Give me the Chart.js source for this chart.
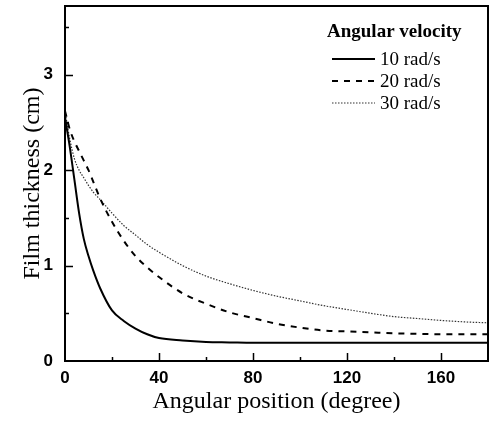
<!DOCTYPE html>
<html>
<head>
<meta charset="utf-8">
<script src="https://cdn.jsdelivr.net/npm/chart.js@4/dist/chart.umd.min.js"></script>
<style>
  html, body { margin: 0; padding: 0; background: #fff; }
  #wrap { width: 493px; height: 426px; }
</style>
</head>
<body>
<div id="wrap"><canvas id="myChart" width="493" height="426"></canvas></div>
<script>
// angular position (degree)
let angles = [0, 2, 4, 6, 8, 10, 12, 15, 20, 25, 30, 35, 40, 50, 60, 70, 80, 90, 100, 110, 120, 130, 140, 150, 160, 170, 180]
// film thickness (cm) per angular velocity
let v10 = [2.55, 2.25, 1.9, 1.55, 1.28, 1.1, 0.95, 0.76, 0.53, 0.42, 0.34, 0.28, 0.24, 0.215, 0.2, 0.195, 0.19, 0.19, 0.19, 0.19, 0.19, 0.19, 0.19, 0.19, 0.19, 0.19, 0.19]
let v20 = [2.62, 2.43, 2.3, 2.2, 2.1, 2.0, 1.88, 1.7, 1.46, 1.26, 1.1, 0.98, 0.88, 0.71, 0.6, 0.51, 0.45, 0.39, 0.35, 0.32, 0.31, 0.3, 0.29, 0.285, 0.28, 0.28, 0.28]
let v30 = [2.62, 2.33, 2.12, 2.0, 1.92, 1.84, 1.77, 1.69, 1.55, 1.42, 1.32, 1.22, 1.14, 1.0, 0.89, 0.81, 0.74, 0.68, 0.63, 0.58, 0.54, 0.5, 0.465, 0.445, 0.425, 0.41, 0.40]
let seriesNames = ['10 rad/s', '20 rad/s', '30 rad/s']
let xTicks = [0, 40, 80, 120, 160]
let yTicks = [0, 1, 2, 3]

const pts = vals => vals.map((v, i) => ({ x: angles[i], y: v }))

const serif = "'Liberation Serif', 'Times New Roman', serif"
const sans = "'Liberation Sans', Arial, sans-serif"

// frame, inward ticks and the legend box
const framePlugin = {
    id: 'frame',
    afterDraw(chart) {
        const ctx = chart.ctx
        const a = chart.chartArea
        const xs = chart.scales.x, ys = chart.scales.y
        ctx.save()
        ctx.strokeStyle = '#000'
        ctx.lineWidth = 2
        ctx.strokeRect(a.left, a.top, a.right - a.left, a.bottom - a.top)
        ctx.lineWidth = 1.5
        ctx.beginPath()
        for (let v = 20; v < 180; v += 20) {
            const px = Math.round(xs.getPixelForValue(v)) + 0.5
            const len = xTicks.includes(v) ? 8 : 4
            ctx.moveTo(px, a.bottom)
            ctx.lineTo(px, a.bottom - len)
        }
        for (let v = 0.5; v < 3.7; v += 0.5) {
            const py = Math.round(ys.getPixelForValue(v)) + 0.5
            const len = yTicks.includes(v) ? 8 : 4
            ctx.moveTo(a.left, py)
            ctx.lineTo(a.left + len, py)
        }
        ctx.stroke()

        // legend
        ctx.fillStyle = '#000'
        ctx.font = 'bold 19px ' + serif
        ctx.textBaseline = 'alphabetic'
        ctx.fillText('Angular velocity', 327, 37)
        ctx.font = '19px ' + serif
        ctx.textBaseline = 'middle'
        chart.data.datasets.forEach((ds, i) => {
            const y = 59 + i * 22
            ctx.strokeStyle = ds.borderColor
            ctx.lineWidth = ds.borderWidth
            ctx.setLineDash(ds.borderDash || [])
            ctx.beginPath()
            ctx.moveTo(332, y)
            ctx.lineTo(375, y)
            ctx.stroke()
            ctx.setLineDash([])
            ctx.fillText(ds.label, 380, y + 1)
        })
        ctx.restore()
    }
}

const data = {
    datasets: [{
        label: seriesNames[0],
        data: pts(v10),
        borderColor: '#000',
        borderWidth: 2,
        borderDash: []
    }, {
        label: seriesNames[1],
        data: pts(v20),
        borderColor: '#000',
        borderWidth: 2,
        borderDash: [6, 6]
    }, {
        label: seriesNames[2],
        data: pts(v30),
        borderColor: '#333',
        borderWidth: 1.2,
        borderDash: [1.5, 1.5]
    }]
}

const config = {
    type: 'line',
    data,
    options: {
        responsive: false,
        animation: false,
        cubicInterpolationMode: 'monotone',
        pointRadius: 0,
        layout: { padding: { top: 6, right: 5, left: 0, bottom: 0 } },
        plugins: { legend: { display: false }, tooltip: { enabled: false } },
        scales: {
            x: {
                type: 'linear',
                min: 0,
                max: 180,
                grid: { display: false, drawTicks: false },
                border: { display: false },
                afterFit: s => { s.height = 65; s.paddingLeft = 0; s.paddingRight = 0 },
                ticks: {
                    stepSize: 20,
                    autoSkip: false,
                    maxRotation: 0,
                    padding: 7,
                    color: '#000',
                    font: { family: sans, size: 17, weight: 'bold' },
                    callback: v => xTicks.includes(v) ? String(v) : ''
                },
                title: {
                    display: true,
                    text: 'Angular position (degree)',
                    color: '#000',
                    font: { family: serif, size: 24 },
                    padding: { top: 0, bottom: 10 }
                }
            },
            y: {
                min: 0,
                max: 3.72,
                grid: { display: false, drawTicks: false },
                border: { display: false },
                afterFit: s => { s.width = 65; s.paddingTop = 0; s.paddingBottom = 0 },
                ticks: {
                    stepSize: 0.5,
                    autoSkip: false,
                    padding: 12,
                    color: '#000',
                    font: { family: sans, size: 17, weight: 'bold' },
                    callback: v => yTicks.includes(v) ? String(v) : ''
                },
                title: {
                    display: true,
                    text: 'Film thickness (cm)',
                    color: '#000',
                    font: { family: serif, size: 24 },
                    padding: { top: 18, bottom: 0 }
                }
            }
        }
    },
    plugins: [framePlugin]
}

var myChart = new Chart(document.getElementById('myChart'), config)
</script>
</body>
</html>
